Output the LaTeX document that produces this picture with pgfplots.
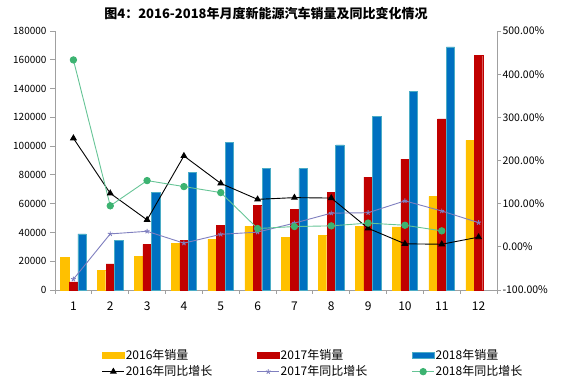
\documentclass[border=0pt]{standalone}
\usepackage{pgfplots}
\pgfplotsset{compat=1.18}
\usepackage{fontspec}
\setmainfont{Noto Sans CJK SC}
\definecolor{cA}{HTML}{FFC000}
\definecolor{cB}{HTML}{C00000}
\definecolor{cC}{HTML}{0070C0}
\definecolor{cCe}{HTML}{4BACC6}
\definecolor{lP}{HTML}{7F7FBF}
\definecolor{lG}{HTML}{66C496}
\definecolor{mG}{HTML}{3CB371}
\definecolor{ax}{HTML}{A0A0A0}
\pgfplotsset{
  mybarleg/.style={legend image code/.code={\filldraw[##1] (0bp,-3bp) rectangle (22bp,3bp);}},
  mylineleg/.style={legend image code/.code={\draw[mark repeat=2,mark phase=2,##1] plot coordinates {(0bp,0bp) (11bp,0bp) (22bp,0bp)};}},
}
\pgfplotstableread{
m s16 s17 s18
1 22800 5600 39000
2 13700 18200 34600
3 23500 31700 68000
4 32200 34300 81500
5 35300 45000 102500
6 44300 59000 84300
7 36500 56000 84300
8 38000 68000 100900
9 44300 78500 120700
10 43800 91000 138000
11 65000 119000 169000
12 104000 163000 nan
}\sales
\pgfplotstableread{
m g16 g17 g18
1 251.6 -75 433
2 124 30 95
3 62.5 36 153.5
4 210.6 8.5 139.6
5 147 29 125.7
6 110 34 42.4
7 114 55 47
8 113 78 48.6
9 43 79 55
10 7 106.5 50
11 6 83 37
12 22.5 56 nan
}\growth
\begin{document}
\begin{tikzpicture}
\useasboundingbox (0,0) rectangle (567bp,383bp);
\node[font=\bfseries\fontsize{13bp}{15bp}\selectfont] at (266bp,370bp) {图4：2016-2018年月度新能源汽车销量及同比变化情况};
\begin{axis}[
  at={(55bp,93bp)}, anchor=south west,
  scale only axis, width=442bp, height=259bp,
  xmin=0.5, xmax=12.5, ymin=0, ymax=180000,
  axis y line*=left, axis x line*=bottom,
  axis line style={draw=ax, line width=0.8bp, -},
  xtick={1,...,12},
  minor xtick={0.5,1.5,...,12.5},
  major x tick style={draw=none},
  minor x tick style={draw=ax, line width=0.8bp},
  ytick={0,20000,...,180000},
  y tick style={draw=ax, line width=0.8bp},
  tick align=outside,
  major tick length=5bp, minor tick length=4bp,
  scaled y ticks=false,
  yticklabel style={/pgf/number format/fixed,/pgf/number format/1000 sep={}, font=\fontsize{10bp}{12bp}\selectfont},
  xticklabel style={font=\fontsize{12bp}{14bp}\selectfont, yshift=-3bp},
  /pgf/number format/assume math mode=true,
  ybar, bar width=0.225,
  clip=false,
]
\addplot[fill=cA, draw=cA, bar shift=-0.235] table[x=m, y=s16] {\sales};
\addplot[fill=cB, draw=cB, bar shift=0] table[x=m, y=s17] {\sales};
\addplot[fill=cC, draw=cCe, line width=0.6bp, bar shift=0.235] table[x=m, y=s18] {\sales};
\end{axis}
\begin{axis}[
  at={(55bp,93bp)}, anchor=south west,
  scale only axis, width=442bp, height=259bp,
  xmin=0.5, xmax=12.5, ymin=-100, ymax=500,
  axis y line*=right, hide x axis,
  axis line style={draw=ax, line width=0.8bp, -},
  ytick={-100,0,...,500},
  y tick style={draw=ax, line width=0.8bp},
  tick align=outside, major tick length=4bp,
  yticklabel={\pgfmathprintnumber[fixed,fixed zerofill,precision=2]{\tick}\%},
  yticklabel style={font=\fontsize{10.5bp}{12bp}\selectfont, xshift=-2bp},
  /pgf/number format/assume math mode=true,
  mylineleg,
  legend columns=3,
  legend cell align=left,
  legend style={at={(0.1057,-0.224)}, anchor=north west, draw=none, fill=none,
    font=\fontsize{12bp}{14bp}\selectfont, inner sep=0pt,
    nodes={inner sep=1bp}, row sep=3bp,
    /tikz/every even column/.append style={column sep=0pt}},
]
\addlegendimage{mybarleg, fill=cA, draw=cA}
\addlegendentry{\makebox[130bp][l]{2016年销量}}
\addlegendimage{mybarleg, fill=cB, draw=cB}
\addlegendentry{\makebox[130bp][l]{2017年销量}}
\addlegendimage{mybarleg, fill=cC, draw=cCe, line width=0.8bp}
\addlegendentry{\makebox[100bp][l]{2018年销量}}
\addplot[black, line width=0.9bp, mark=triangle*, mark size=3.2bp] table[x=m, y=g16] {\growth};
\addlegendentry{\makebox[130bp][l]{2016年同比增长}}
\addplot[lP, line width=0.9bp, mark=star, mark size=2.5bp] table[x=m, y=g17] {\growth};
\addlegendentry{\makebox[130bp][l]{2017年同比增长}}
\addplot[lG, line width=0.9bp, mark=*, mark size=3.2bp, mark options={fill=mG, draw=mG}] table[x=m, y=g18] {\growth};
\addlegendentry{\makebox[100bp][l]{2018年同比增长}}
\end{axis}
\end{tikzpicture}
\end{document}
